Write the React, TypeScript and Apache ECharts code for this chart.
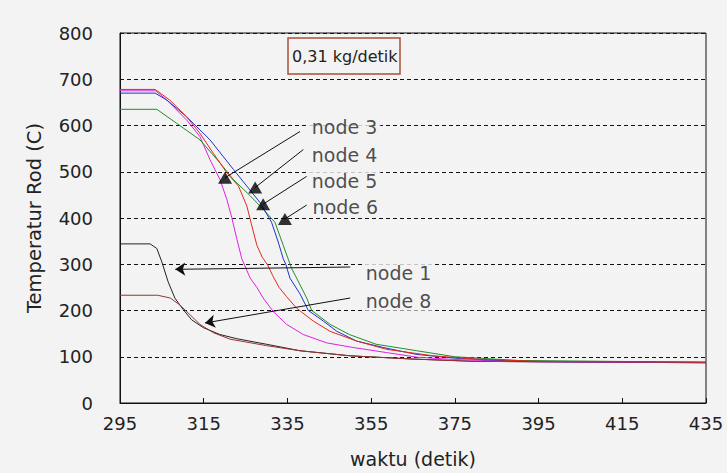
import React, { useEffect, useRef } from "react";
import * as echarts from "echarts";

// time axis tick labels (detik)
const xTicks = [295, 315, 335, 355, 375, 395, 415, 435];
const yTicks = [0, 100, 200, 300, 400, 500, 600, 700, 800];

// node 3 (magenta)
const node3Time = [295, 303.5, 306.2, 310.9, 314.1, 316.5, 318.9, 320.5, 321.7, 322.9, 324.1, 326.1, 327.7, 329.2, 331.6, 334.8, 338.8, 344.4, 350.7, 358.7, 366, 375, 385, 395, 435];
const node3Temp = [675, 675, 655, 612, 576, 526, 483, 441, 401, 355, 312, 270, 250, 227, 198, 170, 148, 130, 120, 109, 99, 94, 91, 89, 88];
// node 4 (red)
const node4Time = [295, 303.4, 306.9, 310.9, 314.1, 317.3, 320.5, 323.3, 325.3, 326.5, 327.7, 329.0, 330.3, 331.5, 333.0, 334.8, 337.2, 341.2, 345.2, 351.5, 358.7, 369.8, 380, 395, 435];
const node4Temp = [678, 678, 655, 619, 583, 540, 498, 469, 426, 383, 341, 315, 298, 275, 250, 230, 205, 177, 155, 134, 116, 102, 95, 90, 88];
// node 5 (green)
const node5Time = [295, 303.8, 308.5, 314.1, 318.9, 322.1, 326.1, 329.2, 332.0, 334.0, 336.0, 337.2, 339.6, 340.8, 345.2, 349.8, 356.2, 365.9, 375, 390, 435];
const node5Temp = [635, 635, 605, 569, 519, 483, 448, 419, 391, 341, 291, 270, 227, 200, 170, 148, 127, 113, 100, 92, 88];
// node 6 (blue)
const node6Time = [295, 303.4, 306.2, 310.9, 316.5, 322.1, 325.3, 328.4, 331.2, 332.8, 334.0, 334.6, 335.6, 338, 340.0, 343.6, 346.8, 351.5, 357.9, 365.9, 375, 390, 435];
const node6Temp = [670, 670, 655, 619, 569, 505, 469, 434, 391, 348, 312, 300, 270, 236, 200, 177, 155, 134, 120, 105, 97, 90, 88];
// node 1 (black)
const node1Time = [295, 302.2, 303.8, 305, 306.5, 308.1, 310.1, 312.1, 314.9, 318.9, 322.9, 330, 338, 350, 365, 380, 435];
const node1Temp = [344, 344, 334, 305, 262, 227, 202, 180, 163, 148, 139, 127, 113, 102, 95, 90, 87];
// node 8 (dark red)
const node8Time = [295, 304, 307, 309.3, 311.7, 314.1, 317.3, 321.3, 330, 338, 350, 365, 380, 435];
const node8Temp = [233, 233, 227, 212, 191, 170, 152, 138, 124, 113, 102, 95, 90, 87];

// annotations: label anchor, arrow start, arrow end
const annoNames = ["node 3", "node 4", "node 5", "node 6", "node 1", "node 8"];
const annoLabelTime = [340.1, 340.1, 340.1, 340.3, 353.0, 353.0];
const annoLabelTemp = [597, 537, 480, 423, 281, 220];
const annoFromTime = [338, 338.8, 339.6, 339.6, 350, 350];
const annoFromTemp = [587, 548, 490, 428, 294, 227];
const annoToTime = [320.1, 327.3, 329.2, 334.4, 308.2, 315.3];
const annoToTemp = [487, 466, 430, 398, 289, 173];
const annoHead = ["triangle", "triangle", "triangle", "triangle", "arrow", "arrow"];

const X0 = 295;
const toPairs = (t: number[], v: number[]) => t.map((x, i) => [x - X0, v[i]]);

const BG = "#f3f3f3";
const FONT = "DejaVu Sans, Liberation Sans, sans-serif";

export default function App() {
  const ref = useRef<HTMLDivElement>(null);
  useEffect(() => {
    document.body.style.margin = "0";
    document.body.style.background = BG;
    const chart = echarts.init(ref.current!, null, { renderer: "svg" });
    const mk = (name: string, t: number[], v: number[], color: string) => ({
      name,
      type: "line",
      data: toPairs(t, v),
      showSymbol: false,
      symbol: "none",
      lineStyle: { color, width: 1 },
      itemStyle: { color },
      z: 3,
    });
    const tri = annoHead
      .map((h, i) => (h === "triangle" ? [annoToTime[i] - X0, annoToTemp[i]] : null))
      .filter((d) => d !== null);
    chart.setOption({
      animation: false,
      backgroundColor: BG,
      textStyle: { fontFamily: FONT },
      title: {
        text: "0,31 kg/detik",
        left: 288,
        top: 38,
        padding: [10, 3, 10, 4],
        borderColor: "#a8503a",
        borderWidth: 1.5,
        textStyle: { fontSize: 16, fontWeight: "normal", color: "#222", fontFamily: FONT },
      },
      grid: {
        left: 120,
        right: 21,
        top: 33,
        bottom: 67,
        show: true,
        borderColor: "#111",
        borderWidth: 1,
        backgroundColor: BG,
      },
      xAxis: {
        type: "value",
        min: 0,
        max: xTicks[xTicks.length - 1] - X0,
        interval: xTicks[1] - xTicks[0],
        name: "waktu (detik)",
        nameLocation: "middle",
        nameGap: 46,
        nameTextStyle: { fontSize: 19, color: "#222", fontFamily: FONT },
        axisLine: { lineStyle: { color: "#111" } },
        axisTick: { inside: true, length: 5, lineStyle: { color: "#111" } },
        axisLabel: { fontSize: 18, color: "#222", margin: 11, formatter: (v: number) => String(v + X0) },
        splitLine: { show: false },
      },
      yAxis: {
        type: "value",
        min: yTicks[0],
        max: yTicks[yTicks.length - 1],
        interval: yTicks[1] - yTicks[0],
        name: "Temperatur Rod (C)",
        nameLocation: "middle",
        nameGap: 76,
        nameTextStyle: { fontSize: 19.5, color: "#222", fontFamily: FONT },
        axisLine: { show: true, lineStyle: { color: "#111" } },
        axisTick: { show: false },
        axisLabel: { fontSize: 18, color: "#222", margin: 27 },
        splitLine: { show: true, lineStyle: { color: "#111", type: [4, 3], width: 1 } },
      },
      series: [
        mk("node 1", node1Time, node1Temp, "#222222"),
        mk("node 8", node8Time, node8Temp, "#993333"),
        mk("node 3", node3Time, node3Temp, "#e020e0"),
        mk("node 5", node5Time, node5Temp, "#1f8f2a"),
        mk("node 6", node6Time, node6Temp, "#2030d0"),
        mk("node 4", node4Time, node4Temp, "#e02a1a"),
        {
          type: "lines",
          coordinateSystem: "cartesian2d",
          silent: true,
          z: 5,
          symbol: ["none", "none"],
          lineStyle: { color: "#111", width: 1, opacity: 1 },
          data: annoNames.map((n, i) => ({
            coords: [
              [annoFromTime[i] - X0, annoFromTemp[i]],
              [annoToTime[i] - X0, annoToTemp[i]],
            ],
            symbol: ["none", annoHead[i] === "arrow" ? "arrow" : "none"],
            symbolSize: 10,
          })),
        },
        {
          type: "scatter",
          silent: true,
          z: 6,
          symbol: "triangle",
          symbolSize: [14, 12],
          itemStyle: { color: "#000" },
          data: tri,
        },
        {
          type: "scatter",
          silent: true,
          z: 7,
          symbolSize: 0,
          data: annoNames.map((n, i) => ({
            name: n,
            value: [annoLabelTime[i] - X0, annoLabelTemp[i]],
          })),
          label: {
            show: true,
            position: "right",
            distance: 0,
            formatter: "{b}",
            fontSize: 19,
            color: "#222",
            fontFamily: FONT,
            backgroundColor: BG,
            padding: [0, 3, 0, 3],
          },
        },
      ],
    });
    return () => chart.dispose();
  }, []);
  return <div ref={ref} style={{ width: 727, height: 473 }} />;
}
